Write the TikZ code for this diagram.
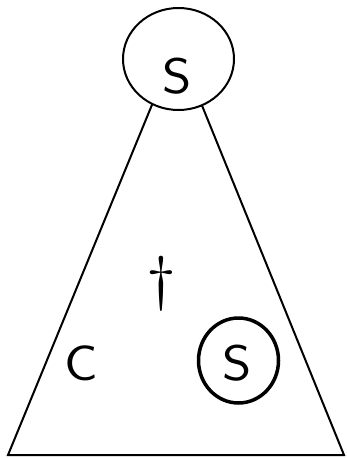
\documentclass[tikz,border=0pt]{standalone}
\usepackage{fontspec}
\usetikzlibrary{shapes.geometric}
\begin{document}
\begin{tikzpicture}[x=1pt,y=-1pt,
  lbl/.style={font=\sffamily\fontsize{50}{50}\selectfont, inner sep=0pt, xscale=1.12, transform shape},
  edge/.style={line width=2pt, line join=miter}]
\useasboundingbox (0,0) rectangle (346,458);
\coordinate (apex) at (177,44);
\coordinate (bl) at (8,455);
\coordinate (br) at (344,455);
\draw[edge] (apex) -- (bl) -- (br) -- cycle;
\node[ellipse, draw, fill=white, line width=2pt, minimum width=111, minimum height=102] (root) at (178.5,59) {};
\node[lbl] (s1) at (177,76) {S};
\node[ellipse, draw, line width=3.5pt, minimum width=80, minimum height=85] (leaf) at (238.5,360.5) {};
\node[lbl] (s2) at (237.5,363) {S};
\node[lbl] (c) at (81,363) {C};
\node[lbl, font=\sffamily\fontsize{60}{60}\selectfont] (dag) at (161,284) {†};
\end{tikzpicture}
\end{document}
